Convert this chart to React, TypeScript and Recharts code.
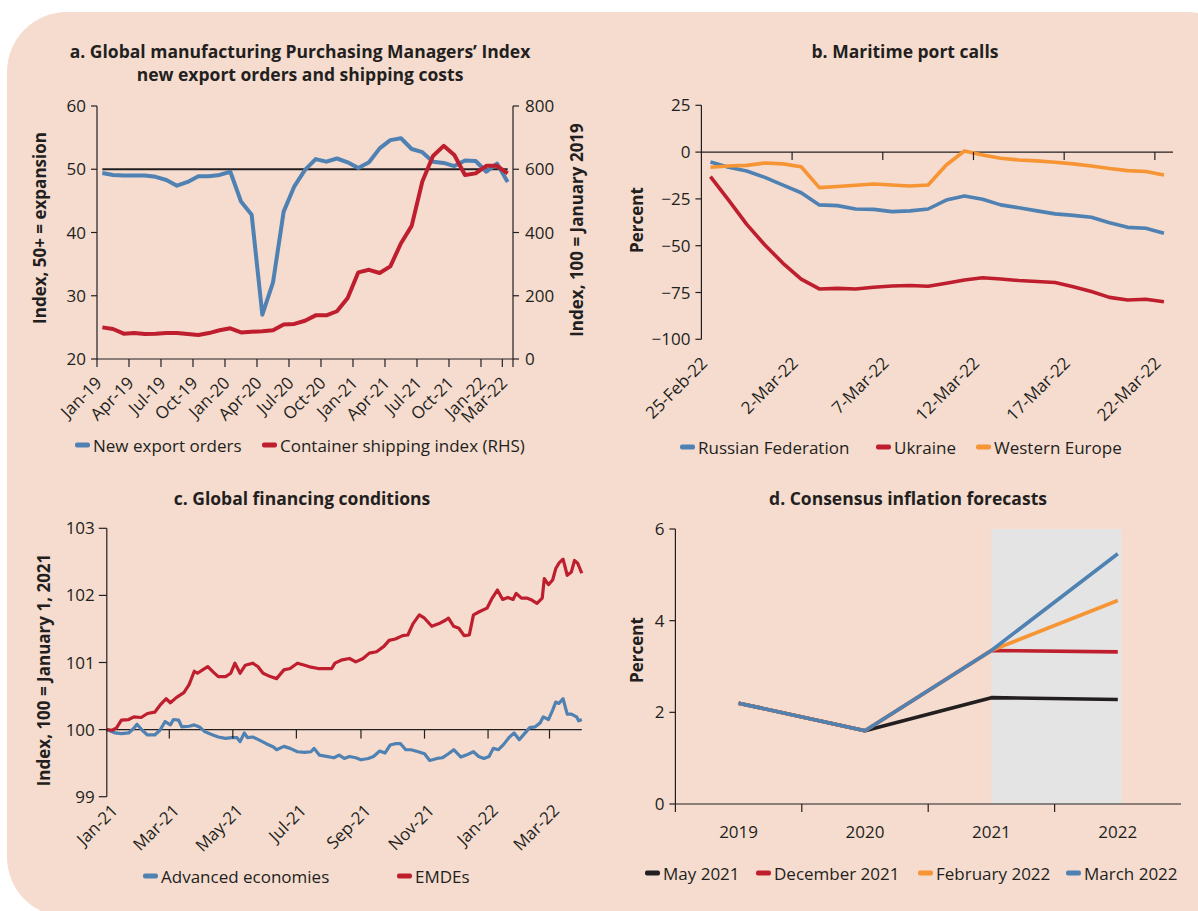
import React from 'react';
import { LineChart, Line, XAxis, YAxis, ReferenceLine, ReferenceArea } from 'recharts';

const FONT = '"Open Sans", Lato, "Noto Sans", sans-serif';
const INK = '#231F20';
const BLUE = '#4F81B2';
const RED = '#BE1E2D';
const ORANGE = '#F79433';
const BLACK = '#231F20';
const PEACH = '#F5DCCF';
const GREY = '#E5E4E4';
const FS = 17;

// ---------- Panel a: PMI new export orders & container shipping index ----------
const pmiMonths = [
  'Jan-19','Feb-19','Mar-19','Apr-19','May-19','Jun-19','Jul-19','Aug-19','Sep-19','Oct-19','Nov-19','Dec-19',
  'Jan-20','Feb-20','Mar-20','Apr-20','May-20','Jun-20','Jul-20','Aug-20','Sep-20','Oct-20','Nov-20','Dec-20',
  'Jan-21','Feb-21','Mar-21','Apr-21','May-21','Jun-21','Jul-21','Aug-21','Sep-21','Oct-21','Nov-21','Dec-21',
  'Jan-22','Feb-22','Mar-22',
];
const newExportOrders = [
  49.4, 49.1, 49.0, 49.0, 49.0, 48.8, 48.3, 47.4, 48.0, 48.9, 48.9, 49.1,
  49.6, 44.9, 42.8, 27.0, 32.1, 43.3, 47.3, 49.9, 51.6, 51.2, 51.7, 51.1,
  50.2, 51.1, 53.3, 54.6, 54.9, 53.2, 52.7, 51.2, 51.0, 50.5, 51.4, 51.3,
  49.6, 50.9, 48.0,
];
const containerShippingIndex = [
  100, 95, 80, 82, 79, 80, 82, 82, 79, 76, 82, 91,
  97, 84, 86, 88, 91, 109, 111, 121, 138, 138, 151, 193,
  274, 282, 272, 293, 366, 421, 561, 642, 674, 645, 582, 587,
  611, 611, 587,
];
const pmiTickMonths = ['Jan-19','Apr-19','Jul-19','Oct-19','Jan-20','Apr-20','Jul-20','Oct-20','Jan-21','Apr-21','Jul-21','Oct-21','Jan-22','Mar-22'];
const pmiLeftTicks = [20, 30, 40, 50, 60];
const pmiRightTicks = [0, 200, 400, 600, 800];

// ---------- Panel b: Maritime port calls ----------
const portDates = [
  '25-Feb-22','26-Feb-22','27-Feb-22','28-Feb-22','1-Mar-22','2-Mar-22','3-Mar-22','4-Mar-22','5-Mar-22',
  '6-Mar-22','7-Mar-22','8-Mar-22','9-Mar-22','10-Mar-22','11-Mar-22','12-Mar-22','13-Mar-22','14-Mar-22',
  '15-Mar-22','16-Mar-22','17-Mar-22','18-Mar-22','19-Mar-22','20-Mar-22','21-Mar-22','22-Mar-22',
];
const russianFederation = [
  -5.3, -8.1, -10.1, -13.5, -17.6, -21.7, -28.2, -28.6, -30.4, -30.6, -31.8, -31.4, -30.4,
  -25.6, -23.4, -25.2, -28.2, -29.7, -31.4, -33.0, -33.8, -34.8, -37.7, -40.2, -40.7, -43.4,
];
const ukraine = [
  -13.1, -25.6, -38.6, -49.6, -59.4, -67.9, -73.1, -72.8, -73.1, -72.2, -71.5, -71.3, -71.7,
  -70.1, -68.3, -67.1, -67.8, -68.6, -69.1, -69.7, -71.9, -74.5, -77.6, -79.0, -78.6, -79.9,
];
const westernEurope = [
  -8.1, -7.4, -7.1, -5.8, -6.3, -7.8, -19.0, -18.4, -17.7, -17.0, -17.6, -18.1, -17.6,
  -6.9, 0.6, -1.5, -3.3, -4.2, -4.7, -5.4, -6.3, -7.4, -8.8, -9.9, -10.4, -12.2,
];
const portTickDates = ['25-Feb-22','2-Mar-22','7-Mar-22','12-Mar-22','17-Mar-22','22-Mar-22'];
const portYTicks = [-100, -75, -50, -25, 0, 25];

// ---------- Panel c: Global financing conditions (days since Jan 1, 2021) ----------
const emdeDays = [
  -1, 4, 8, 13, 20, 25, 32, 38, 45, 51, 56, 60, 66, 73, 78, 83, 86, 91, 96, 101,
  106, 113, 118, 122, 127, 132, 139, 144, 149, 156, 162, 169, 175, 182, 189, 195, 202, 208, 215, 218,
  225, 232, 238, 245, 251, 258, 265, 270, 276, 283, 288, 293, 299, 304, 311, 318, 324, 327, 332, 337,
  342, 347, 351, 357, 364, 369, 374, 379, 384, 389, 392, 397, 402, 407, 412, 417, 419, 423, 427, 430,
  433, 437, 441, 445, 448, 451, 455,
];
const emdeIndex = [
  100.00, 99.99, 100.02, 100.14, 100.15, 100.19, 100.18, 100.24, 100.26, 100.38,
  100.46, 100.40, 100.48, 100.55, 100.67, 100.87, 100.84, 100.89, 100.94, 100.86,
  100.79, 100.79, 100.84, 100.99, 100.84, 100.96, 100.99, 100.94, 100.84, 100.79,
  100.76, 100.89, 100.91, 100.99, 100.96, 100.93, 100.91, 100.91, 100.91, 100.99,
  101.04, 101.06, 101.01, 101.06, 101.14, 101.16, 101.24, 101.33, 101.35, 101.40,
  101.41, 101.58, 101.71, 101.66, 101.54, 101.58, 101.63, 101.66, 101.54, 101.51,
  101.40, 101.41, 101.71, 101.76, 101.81, 101.96, 102.08, 101.94, 101.97, 101.94,
  102.03, 101.96, 101.96, 101.93, 101.88, 101.96, 102.25, 102.16, 102.23, 102.40,
  102.48, 102.54, 102.30, 102.35, 102.52, 102.48, 102.33,
];
const advDays = [
  -1, 7, 13, 20, 25, 28, 33, 38, 45, 50, 55, 60, 63, 68, 71, 78, 83, 88, 93, 99,
  106, 113, 119, 124, 127, 131, 134, 139, 146, 152, 159, 162, 169, 175, 182, 189, 195, 198, 203, 210,
  217, 222, 227, 232, 238, 243, 250, 255, 261, 266, 271, 276, 281, 286, 291, 298, 304, 309, 316, 321,
  327, 332, 339, 344, 351, 356, 361, 366, 370, 375, 380, 385, 390, 395, 400, 405, 410, 415, 418, 423,
  427, 430, 433, 437, 441, 445, 450, 452, 455,
];
const advIndex = [
  100.00, 99.95, 99.94, 99.95, 100.02, 100.08, 99.99, 99.92, 99.92, 99.99,
  100.12, 100.07, 100.15, 100.14, 100.04, 100.05, 100.07, 100.04, 99.97, 99.93,
  99.89, 99.87, 99.88, 99.88, 99.82, 99.95, 99.88, 99.89, 99.84, 99.79,
  99.74, 99.70, 99.75, 99.72, 99.67, 99.66, 99.67, 99.72, 99.62, 99.60,
  99.58, 99.62, 99.57, 99.60, 99.58, 99.55, 99.57, 99.60, 99.68, 99.65,
  99.77, 99.79, 99.79, 99.70, 99.70, 99.67, 99.64, 99.54, 99.57, 99.58,
  99.64, 99.70, 99.59, 99.62, 99.67, 99.60, 99.57, 99.60, 99.72, 99.70,
  99.78, 99.88, 99.95, 99.85, 99.94, 100.03, 100.04, 100.10, 100.19, 100.15,
  100.29, 100.41, 100.39, 100.46, 100.23, 100.23, 100.19, 100.13, 100.15,
];
const finTickLabels = ['Jan-21','Mar-21','May-21','Jul-21','Sep-21','Nov-21','Jan-22','Mar-22'];
const finTickDays = [0, 59, 120, 181, 243, 304, 365, 424];
const finYTicks = [99, 100, 101, 102, 103];

// ---------- Panel d: Consensus inflation forecasts ----------
const years = ['2019', '2020', '2021', '2022'];
const may2021 = [2.2, 1.6, 2.32, 2.28];
const dec2021 = [2.2, 1.6, 3.35, 3.32];
const feb2022 = [2.2, 1.6, 3.35, 4.44];
const mar2022 = [2.2, 1.6, 3.35, 5.46];
const inflYTicks = [0, 2, 4, 6];

// ---------- derived tables ----------
const pmiData = pmiMonths.map((m, i) => ({ x: i + 0.5, exp: newExportOrders[i], ship: containerShippingIndex[i] }));
const pmiTickIdx = pmiTickMonths.map((m) => pmiMonths.indexOf(m));
const portData = portDates.map((d, i) => ({ x: i + 0.5, ru: russianFederation[i], ua: ukraine[i], we: westernEurope[i] }));
const portTickIdx = portTickDates.map((d) => portDates.indexOf(d));
const emdeData = emdeDays.map((d, i) => ({ x: d, v: emdeIndex[i] }));
const advData = advDays.map((d, i) => ({ x: d, v: advIndex[i] }));
const inflData = years.map((y, i) => ({ x: i + 0.5, may: may2021[i], dec: dec2021[i], feb: feb2022[i], mar: mar2022[i] }));

const fmtMinus = (v: number) => (v < 0 ? '\u2212' + Math.abs(v) : String(v));

const tickStyle = { fill: INK, fontSize: FS, fontFamily: FONT };

function rotLabel(ax: number, ay: number, text: string) {
  return (
    <text x={ax} y={ay} textAnchor="end" transform={`rotate(-45 ${ax} ${ay})`} fill={INK} fontSize={FS} fontFamily={FONT}>
      {text}
    </text>
  );
}

// panel geometry (plot heights, used to place tick marks on the zero line)
const B_PLOT_H = 234;
const C_PLOT_H = 268.4;

const Title = ({ x, y, lines }: { x: number; y: number; lines: string[] }) => (
  <div style={{ position: 'absolute', left: x, top: y, transform: 'translateX(-50%)', textAlign: 'center', fontWeight: 700, fontSize: 17.5, lineHeight: '23px', color: INK, whiteSpace: 'nowrap', fontFamily: FONT }}>
    {lines.map((l, i) => (<div key={i}>{l}</div>))}
  </div>
);

const VLabel = ({ cx, cy, text }: { cx: number; cy: number; text: string }) => (
  <div style={{ position: 'absolute', left: cx, top: cy, transform: 'translate(-50%, -50%) rotate(-90deg)', fontWeight: 700, fontSize: 17, color: INK, whiteSpace: 'nowrap', fontFamily: FONT }}>
    {text}
  </div>
);

const LegendItem = ({ x, y, color, text }: { x: number; y: number; color: string; text: string }) => (
  <div style={{ position: 'absolute', left: x, top: y, transform: 'translateY(-50%)', display: 'flex', alignItems: 'center', fontSize: FS, color: INK, whiteSpace: 'nowrap', fontFamily: FONT }}>
    <span style={{ display: 'inline-block', width: 15, height: 4.5, borderRadius: 2, background: color, marginRight: 3 }} />
    <span>{text}</span>
  </div>
);

export default function App() {
  return (
    <div style={{ position: 'absolute', left: 0, top: 0, width: 1198, height: 911, background: '#ffffff', overflow: 'hidden', fontFamily: FONT }}>
      <div style={{ position: 'absolute', left: 7, top: 12, width: 1240, height: 905, borderRadius: 60, background: PEACH }} />

      {/* Panel a */}
      <Title x={300} y={40} lines={['a. Global manufacturing Purchasing Managers\u2019 Index', 'new export orders and shipping costs']} />
      <div style={{ position: 'absolute', left: 0, top: 90 }}>
        <LineChart width={600} height={360} data={pmiData} margin={{ top: 16, right: 0, bottom: 0, left: 0 }}>
          <XAxis type="number" dataKey="x" domain={[0, 39]} ticks={[...pmiTickIdx, 39]} interval={0} height={91}
            tickSize={8} tickMargin={2} axisLine={{ stroke: INK, strokeWidth: 1.2 }} tickLine={{ stroke: INK, strokeWidth: 1.2 }}
            tick={(p: any) => rotLabel(p.x + 6, p.y + 15, pmiTickIdx.includes(p.payload.value) ? pmiMonths[p.payload.value] : '')} />
          <YAxis yAxisId="l" domain={[20, 60]} ticks={pmiLeftTicks} width={97} tickSize={6} tickMargin={5}
            axisLine={{ stroke: INK, strokeWidth: 1.2 }} tickLine={{ stroke: INK, strokeWidth: 1.2 }} tick={tickStyle} />
          <YAxis yAxisId="r" orientation="right" domain={[0, 800]} ticks={pmiRightTicks} width={87} tickSize={6} tickMargin={6}
            axisLine={{ stroke: INK, strokeWidth: 1.2 }} tickLine={{ stroke: INK, strokeWidth: 1.2 }} tick={{ ...tickStyle, textAnchor: 'start' }} />
          <ReferenceLine yAxisId="l" segment={[{ x: 0.5, y: 50 }, { x: 38.5, y: 50 }]} stroke={INK} strokeWidth={2} />
          <Line yAxisId="l" dataKey="exp" stroke={BLUE} strokeWidth={4} dot={false} activeDot={false} isAnimationActive={false} strokeLinejoin="round" />
          <Line yAxisId="r" dataKey="ship" stroke={RED} strokeWidth={4} dot={false} activeDot={false} isAnimationActive={false} strokeLinejoin="round" />
        </LineChart>
      </div>
      <VLabel cx={38.5} cy={228} text="Index, 50+ = expansion" />
      <VLabel cx={576} cy={230} text="Index, 100 = January 2019" />
      <LegendItem x={75} y={445} color={BLUE} text="New export orders" />
      <LegendItem x={262} y={445} color={RED} text="Container shipping index (RHS)" />

      {/* Panel b */}
      <Title x={905} y={40} lines={['b. Maritime port calls']} />
      <div style={{ position: 'absolute', left: 600, top: 90 }}>
        <LineChart width={600} height={360} data={portData} margin={{ top: 15.3, right: 27, bottom: 0, left: 0 }}>
          <XAxis type="number" dataKey="x" domain={[0, 26]} ticks={portTickIdx} interval={0} height={110.7}
            tickSize={0} tickMargin={0} axisLine={false} tickLine={false}
            tick={(p: any) => {
              const zy = p.y - B_PLOT_H * 100 / 125;
              return (
                <g>
                  {p.payload.value > 0 ? <line x1={p.x} x2={p.x} y1={zy} y2={zy + 8} stroke={INK} strokeWidth={1.2} /> : null}
                  {rotLabel(p.x + 7, p.y + 25, portDates[p.payload.value])}
                </g>
              );
            }} />
          <YAxis domain={[-100, 25]} ticks={portYTicks} width={101.4} tickSize={6} tickMargin={5} tickFormatter={fmtMinus}
            axisLine={{ stroke: INK, strokeWidth: 1.2 }} tickLine={{ stroke: INK, strokeWidth: 1.2 }} tick={tickStyle} />
          <ReferenceLine y={0} stroke={INK} strokeWidth={1.2} />
          <Line dataKey="ru" stroke={BLUE} strokeWidth={3.6} dot={false} activeDot={false} isAnimationActive={false} strokeLinejoin="round" />
          <Line dataKey="ua" stroke={RED} strokeWidth={3.6} dot={false} activeDot={false} isAnimationActive={false} strokeLinejoin="round" />
          <Line dataKey="we" stroke={ORANGE} strokeWidth={3.6} dot={false} activeDot={false} isAnimationActive={false} strokeLinejoin="round" />
        </LineChart>
      </div>
      <VLabel cx={636} cy={220} text="Percent" />
      <LegendItem x={680} y={447} color={BLUE} text="Russian Federation" />
      <LegendItem x={876} y={447} color={RED} text="Ukraine" />
      <LegendItem x={976} y={447} color={ORANGE} text="Western Europe" />

      {/* Panel c */}
      <Title x={302} y={487} lines={['c. Global financing conditions']} />
      <div style={{ position: 'absolute', left: 0, top: 510 }}>
        <LineChart width={600} height={380} margin={{ top: 18.3, right: 18.2, bottom: 0, left: 0 }}>
          <XAxis type="number" dataKey="x" domain={[-1, 455]} ticks={finTickDays} interval={0} height={93.3}
            tickSize={0} tickMargin={0} axisLine={false} tickLine={false}
            tick={(p: any) => {
              const zy = p.y - C_PLOT_H * 1 / 4;
              const idx = finTickDays.indexOf(p.payload.value);
              return (
                <g>
                  {idx > 0 ? <line x1={p.x} x2={p.x} y1={zy} y2={zy + 9} stroke={INK} strokeWidth={1.2} /> : null}
                  {rotLabel(p.x + 11, p.y + 15, finTickLabels[idx])}
                </g>
              );
            }} />
          <YAxis domain={[99, 103]} ticks={finYTicks} width={106.8} tickSize={8} tickMargin={4}
            axisLine={{ stroke: INK, strokeWidth: 1.2 }} tickLine={{ stroke: INK, strokeWidth: 1.2 }} tick={tickStyle} />
          <ReferenceLine y={100} stroke={INK} strokeWidth={1.2} />
          <Line data={advData} dataKey="v" stroke={BLUE} strokeWidth={3.2} dot={false} activeDot={false} isAnimationActive={false} strokeLinejoin="round" />
          <Line data={emdeData} dataKey="v" stroke={RED} strokeWidth={3.2} dot={false} activeDot={false} isAnimationActive={false} strokeLinejoin="round" />
        </LineChart>
      </div>
      <VLabel cx={42.5} cy={670} text="Index, 100 = January 1, 2021" />
      <LegendItem x={143} y={876} color={BLUE} text="Advanced economies" />
      <LegendItem x={397} y={876} color={RED} text="EMDEs" />

      {/* Panel d */}
      <Title x={908} y={487} lines={['d. Consensus inflation forecasts']} />
      <div style={{ position: 'absolute', left: 600, top: 510 }}>
        <LineChart width={600} height={344} data={inflData} margin={{ top: 19, right: 19, bottom: 0, left: 0 }}>
          <ReferenceArea x1={2.5} x2={3.53} y1={0} y2={6} fill={GREY} fillOpacity={1} stroke="none" />
          <XAxis type="number" dataKey="x" domain={[0, 4]} ticks={[0, 0.5, 1, 1.5, 2, 2.5, 3, 3.5]} interval={0} height={50}
            tickSize={0} tickMargin={0} axisLine={{ stroke: INK, strokeWidth: 1.2 }} tickLine={false}
            tick={(p: any) => {
              const v = p.payload.value;
              if (Number.isInteger(v)) {
                return <line x1={p.x} x2={p.x} y1={p.y} y2={p.y + 8} stroke={INK} strokeWidth={1.2} />;
              }
              return (
                <text x={p.x} y={p.y + 34} textAnchor="middle" fill={INK} fontSize={FS} fontFamily={FONT}>{years[Math.floor(v)]}</text>
              );
            }} />
          <YAxis domain={[0, 6]} ticks={inflYTicks} width={75.4} tickSize={6} tickMargin={5}
            axisLine={{ stroke: INK, strokeWidth: 1.2 }} tickLine={{ stroke: INK, strokeWidth: 1.2 }} tick={tickStyle} />
          <Line dataKey="may" stroke={BLACK} strokeWidth={3.6} dot={false} activeDot={false} isAnimationActive={false} strokeLinejoin="round" />
          <Line dataKey="dec" stroke={RED} strokeWidth={3.6} dot={false} activeDot={false} isAnimationActive={false} strokeLinejoin="round" />
          <Line dataKey="feb" stroke={ORANGE} strokeWidth={3.6} dot={false} activeDot={false} isAnimationActive={false} strokeLinejoin="round" />
          <Line dataKey="mar" stroke={BLUE} strokeWidth={3.6} dot={false} activeDot={false} isAnimationActive={false} strokeLinejoin="round" />
        </LineChart>
      </div>
      <VLabel cx={636} cy={650} text="Percent" />
      <LegendItem x={645} y={873} color={BLACK} text="May 2021" />
      <LegendItem x={756} y={873} color={RED} text="December 2021" />
      <LegendItem x={918} y={873} color={ORANGE} text="February 2022" />
      <LegendItem x={1066} y={873} color={BLUE} text="March 2022" />
    </div>
  );
}
